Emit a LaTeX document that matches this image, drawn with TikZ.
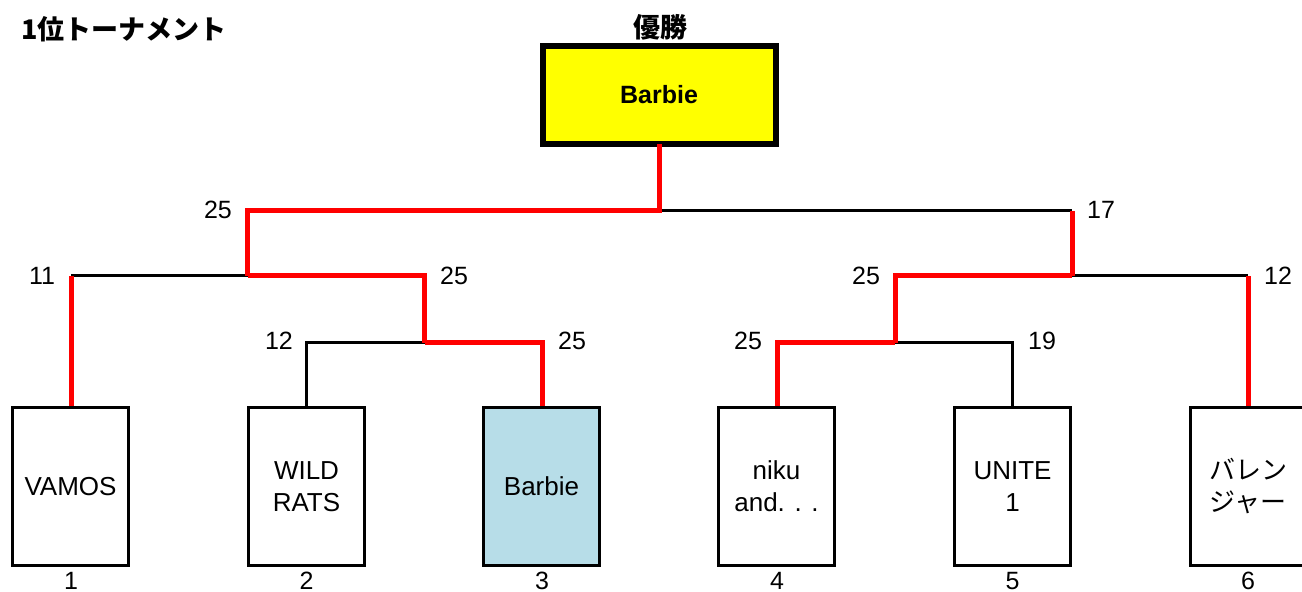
\documentclass[tikz,border=0pt]{standalone}
\usepackage{fontspec}
\setmainfont{Liberation Sans}
\newfontfamily\jp{Noto Sans CJK JP}
\definecolor{champyellow}{HTML}{FFFF00}
\definecolor{lightblue}{HTML}{B7DDE8}
\definecolor{winred}{HTML}{FF0000}
\begin{document}
\begin{tikzpicture}[x=1pt,y=-1pt,
  team/.style={draw=black, line width=3pt, minimum width=116pt, minimum height=158pt,
    inner sep=0pt, outer sep=0pt, align=center, font=\fontsize{26}{32}\selectfont},
  champbox/.style={draw=black, fill=champyellow, line width=6pt, minimum width=233pt,
    minimum height=98pt, inner sep=0pt, outer sep=0pt, font=\bfseries\fontsize{25}{30}\selectfont},
  score/.style={inner sep=0pt, font=\fontsize{25}{30}\selectfont},
  seed/.style={inner sep=0pt, font=\fontsize{25}{30}\selectfont},
  loseline/.style={draw=black, line width=2.5pt},
  winline/.style={draw=winred, line width=5pt, line join=miter}
]
\fill[white] (0,0) rectangle (1302,592);
\useasboundingbox (0,0) rectangle (1302,592);

% title
\node[anchor=west, inner sep=0pt, font=\jp\bfseries\fontsize{27}{32}\selectfont] (title) at (21,29) {1位トーナメント};
\node[inner sep=0pt, font=\jp\bfseries\fontsize{27}{32}\selectfont] (yusho) at (660,27) {優勝};

% champion
\node[champbox] (champ) at (659,95) {Barbie};

% teams
\node[team] (b1) at (70.5,486.5) {VAMOS};
\node[team] (b2) at (306.5,486.5) {WILD\\RATS};
\node[team, fill=lightblue] (b3) at (541.5,486.5) {Barbie};
\node[team] (b4) at (776.5,486.5) {niku\\and. . .};
\node[team] (b5) at (1012.5,486.5) {UNITE\\1};
\node[team, font=\jp\fontsize{26}{32}\selectfont] (b6) at (1248,486.5) {バレン\\ジャー};

% seeds
\node[seed] (s1) at (71,581) {1};
\node[seed] (s2) at (306.5,581) {2};
\node[seed] (s3) at (542,581) {3};
\node[seed] (s4) at (777,581) {4};
\node[seed] (s5) at (1012.5,581) {5};
\node[seed] (s6) at (1248,581) {6};

% junctions
\coordinate (j1) at (424.5,342.5);
\coordinate (j2) at (895,342.5);
\coordinate (j3) at (247.5,275.5);
\coordinate (j4) at (1072,275.5);
\coordinate (j5) at (659,210.5);
\coordinate (t1) at (71,406);
\coordinate (t2) at (306.5,406);
\coordinate (t3) at (542,406);
\coordinate (t4) at (777,406);
\coordinate (t5) at (1012.5,406);
\coordinate (t6) at (1248,406);

% losing lines
\draw[loseline] (t2) |- (j1);
\draw[loseline] (t5) |- (j2);
\draw[loseline] (t1 |- j3) -- (j3);
\draw[loseline] (t6 |- j4) -- (j4);
\draw[loseline] (j5) -- (j4 |- j5);

% winning lines
\draw[winline] (t3) |- (j1);
\draw[winline] (t4) |- (j2);
\draw[winline] (t1) -- (t1 |- j3);
\draw[winline] (t6) -- (t6 |- j4);
\draw[winline] (j1) |- (j3);
\draw[winline] (j2) |- (j4);
\draw[winline] (j4) -- (j4 |- j5);
\draw[winline] (j3) |- (j5) -- (champ.south);

% scores
\node[score] (c1) at (218,210) {25};
\node[score] (c2) at (1101,210) {17};
\node[score] (c3) at (42,276) {11};
\node[score] (c4) at (454,276) {25};
\node[score] (c5) at (866,276) {25};
\node[score] (c6) at (1278,276) {12};
\node[score] (c7) at (279,341) {12};
\node[score] (c8) at (572,341) {25};
\node[score] (c9) at (748,341) {25};
\node[score] (c10) at (1042,341) {19};
\end{tikzpicture}
\end{document}
